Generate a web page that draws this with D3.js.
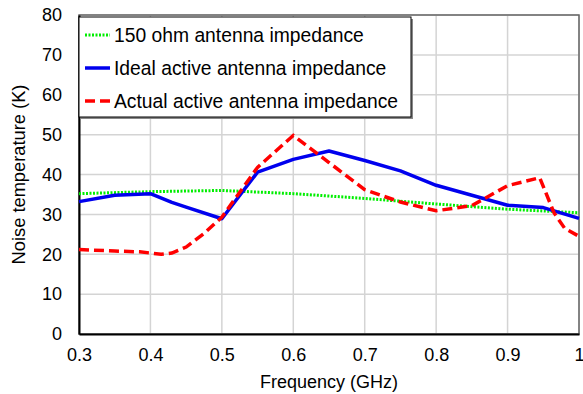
<!DOCTYPE html>
<html>
<head>
<meta charset="utf-8">
<script src="https://cdn.jsdelivr.net/npm/d3@7"></script>
<style>
  body { margin: 0; background: #fff; }
  svg text { font-family: "Liberation Sans", Arial, sans-serif; fill: #000; }
</style>
</head>
<body>
<svg id="chart" width="583" height="394"></svg>
<script>
// frequency points (GHz) and noise temperature (K) per series
const freqGreen = [0.3, 0.4, 0.5, 0.6, 0.7, 0.8, 0.9, 1.0];
const tempGreen = [35.2, 35.7, 36.0, 35.2, 34.0, 32.6, 31.3, 30.4];

const freqBlue = [0.3, 0.35, 0.4, 0.43, 0.45, 0.5, 0.55, 0.6, 0.65, 0.7, 0.75, 0.8, 0.85, 0.9, 0.95, 1.0];
const tempBlue = [33.2, 34.8, 35.2, 33.0, 31.8, 28.9, 40.6, 43.8, 45.9, 43.5, 40.9, 37.3, 34.8, 32.3, 31.7, 29.0];

const freqRed = [0.3, 0.35, 0.385, 0.415, 0.43, 0.45, 0.475, 0.5, 0.55, 0.6, 0.65, 0.7, 0.75, 0.8, 0.85, 0.9, 0.945, 0.965, 0.98, 1.0];
const tempRed = [21.2, 20.8, 20.6, 20.0, 20.3, 21.8, 25.2, 29.3, 41.8, 49.8, 43.0, 36.2, 33.1, 30.9, 32.2, 37.2, 39.2, 30.4, 26.5, 24.5];

const xTicks = [0.3, 0.4, 0.5, 0.6, 0.7, 0.8, 0.9, 1.0];
const yTicks = [0, 10, 20, 30, 40, 50, 60, 70, 80];
const seriesNames = ["150 ohm antenna impedance", "Ideal active antenna impedance", "Actual active antenna impedance"];

function renderChart() {
    let svg = d3.select("#chart"),
        margin = { top: 15, right: 4, bottom: 60, left: 79 },
        width = +svg.attr("width") - margin.left - margin.right,
        height = +svg.attr("height") - margin.top - margin.bottom,
        g = svg.append("g").attr("transform", "translate(" + margin.left + "," + margin.top + ")");

    let x = d3.scaleLinear().domain([0.3, 1.0]).range([0, width]);
    let y = d3.scaleLinear().domain([0, 80]).range([height, 0]);

    // grid
    g.append("g")
        .selectAll("line.vg")
        .data(xTicks)
        .enter().append("line")
        .attr("x1", d => x(d)).attr("x2", d => x(d))
        .attr("y1", 0).attr("y2", height)
        .attr("stroke", "#d4d4d4").attr("stroke-width", 1.5);
    g.append("g")
        .selectAll("line.hg")
        .data(yTicks)
        .enter().append("line")
        .attr("x1", 0).attr("x2", width)
        .attr("y1", d => y(d)).attr("y2", d => y(d))
        .attr("stroke", "#d4d4d4").attr("stroke-width", 1.5);

    // frame
    g.append("rect")
        .attr("width", width).attr("height", height)
        .attr("fill", "none").attr("stroke", "#666").attr("stroke-width", 1.5);

    // axes
    g.append("g")
        .attr("transform", "translate(0," + height + ")")
        .call(d3.axisBottom(x).tickValues(xTicks).tickSize(0).tickPadding(14)
            .tickFormat(d => d === 1 ? "1" : d3.format(".1f")(d)))
        .call(a => a.select(".domain").attr("stroke", "#000").attr("stroke-width", 2))
        .call(a => a.selectAll("text").attr("font-size", 18).attr("font-family", "Liberation Sans, Arial, sans-serif"));

    g.append("g")
        .call(d3.axisLeft(y).tickValues(yTicks).tickSize(0).tickPadding(17))
        .call(a => a.select(".domain").attr("stroke", "#000").attr("stroke-width", 2))
        .call(a => a.selectAll("text").attr("font-size", 18).attr("font-family", "Liberation Sans, Arial, sans-serif"));

    svg.append("text")
        .attr("x", margin.left + width / 2)
        .attr("y", 388)
        .attr("text-anchor", "middle")
        .attr("font-size", 18)
        .text("Frequency (GHz)");

    svg.append("text")
        .attr("transform", "translate(25," + (margin.top + height / 2) + ") rotate(-90)")
        .attr("text-anchor", "middle")
        .attr("font-size", 18.3)
        .text("Noise temperature (K)");

    let line = d3.line().x(d => x(d[0])).y(d => y(d[1]));

    g.append("path")
        .datum(d3.zip(freqGreen, tempGreen))
        .attr("fill", "none").attr("stroke", "#00ee00")
        .attr("stroke-width", 3).attr("stroke-dasharray", "2,1.5")
        .attr("d", line);
    g.append("path")
        .datum(d3.zip(freqBlue, tempBlue))
        .attr("fill", "none").attr("stroke", "#0000ee")
        .attr("stroke-width", 3.5).attr("stroke-linejoin", "round")
        .attr("d", line);
    g.append("path")
        .datum(d3.zip(freqRed, tempRed))
        .attr("fill", "none").attr("stroke", "#ff0000")
        .attr("stroke-width", 3.5).attr("stroke-dasharray", "10,5")
        .attr("d", line);

    // legend
    let lg = svg.append("g").attr("transform", "translate(79,17)");
    lg.append("rect").attr("x", 2).attr("y", 2).attr("width", 332).attr("height", 100).attr("fill", "#888");
    lg.append("rect").attr("x", 0).attr("y", 0).attr("width", 332).attr("height", 100)
        .attr("fill", "#fff").attr("stroke", "#000").attr("stroke-width", 1);

    let styles = [
        { color: "#00ee00", dash: "2,1.5", w: 3 },
        { color: "#0000ee", dash: null, w: 3.5 },
        { color: "#ff0000", dash: "10,5", w: 3.5 }
    ];
    seriesNames.forEach((name, i) => {
        let cy = 18 + i * 33;
        lg.append("line")
            .attr("x1", 6).attr("x2", 31).attr("y1", cy).attr("y2", cy)
            .attr("stroke", styles[i].color).attr("stroke-width", styles[i].w)
            .attr("stroke-dasharray", styles[i].dash);
        lg.append("text")
            .attr("x", 35).attr("y", cy + 7)
            .attr("font-size", 19.3)
            .text(name);
    });
}

renderChart();
</script>
</body>
</html>
